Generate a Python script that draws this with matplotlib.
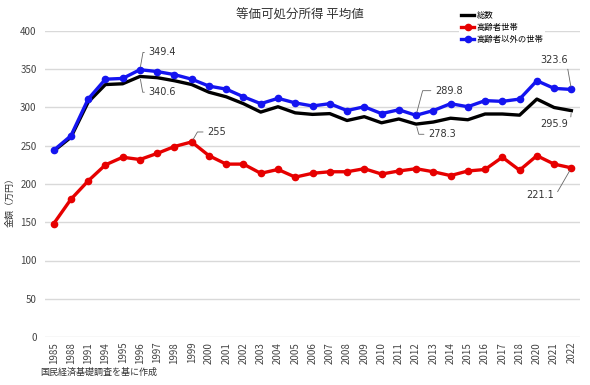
import matplotlib.pyplot as plt

plt.rcParams['font.family'] = ['Noto Sans CJK JP', 'DejaVu Sans']

years = ["1985", "1988", "1991", "1994"] + [str(y) for y in range(1995, 2019)] + ["2020", "2021", "2022"]

total = [243, 261, 307, 330, 331, 340.6, 339, 335, 330, 320, 314, 305, 294, 301, 293,
         291, 292, 283, 288, 280, 285, 278.3, 281, 286, 284, 291.5, 291.5, 290, 311, 300, 295.9]
elderly = [148, 180, 204, 225, 235, 232, 240, 249, 255, 237, 226, 226, 214, 219, 209,
           214, 216, 216, 220, 213, 217, 220, 216, 211, 217, 219, 235, 218, 237, 226, 221.1]
others = [244, 263, 311, 337, 338, 349.4, 347, 343, 337, 328, 324, 314, 305, 312, 306,
          302, 305, 296, 301, 292, 297, 289.8, 296, 305, 301, 309, 308, 311, 335, 325, 323.6]

x = list(range(len(years)))

fig = plt.figure(figsize=(5.9, 3.85), dpi=100)
ax = fig.add_axes([45/590, 1 - 337/385, 535/590, 306/385])

ax.plot(x, total, color='black', linewidth=2.4, label="総数", zorder=3)
ax.plot(x, elderly, color='#e60000', linewidth=2.4, marker='o', markersize=4.5, label="高齢者世帯", zorder=3)
ax.plot(x, others, color='#1414f0', linewidth=2.4, marker='o', markersize=4.5, label="高齢者以外の世帯", zorder=3)

ax.set_xlim(-0.5, len(x) - 0.5)
ax.set_ylim(0, 400)
ax.set_yticks(range(0, 401, 50))
ax.set_xticks(x)
ax.set_xticklabels(years, rotation=90)
ax.grid(axis='y', color='#d9d9d9', linewidth=1)
ax.set_axisbelow(True)
for s in ax.spines.values():
    s.set_visible(False)
ax.tick_params(axis='both', length=0, labelsize=7, labelcolor='#444444')
ax.tick_params(axis='y', pad=6)

# annotations with thin leader lines
def note(text, xi, yv, tx, ty, ha='left', angle=80):
    lead = dict(arrowstyle='-', color='#666666', linewidth=0.6, shrinkA=1, shrinkB=2,
                relpos=(0, 0.5) if ha == 'left' else (1, 0.5),
                connectionstyle='angle,angleA=0,angleB=%d,rad=0' % angle)
    ax.annotate(text, xy=(xi, yv), xytext=(tx, ty), fontsize=7, color='#333333',
                ha=ha, va='center', arrowprops=lead, family='DejaVu Sans')

note("349.4", 5, others[5], 5.5, 372)
note("340.6", 5, total[5], 5.5, 320, angle=-80)
note("255", 8, elderly[8], 8.9, 268, angle=60)
note("289.8", 21, others[21], 22.1, 322, angle=75)
note("278.3", 21, total[21], 21.7, 265, angle=-75)
note("323.6", 30, others[30], 29.8, 362, ha='right', angle=-80)
note("295.9", 30, total[30], 29.8, 278, ha='right', angle=85)
note("221.1", 30, elderly[30], 29.0, 186, ha='right', angle=60)

fig.text(300/590, 1 - 15/385, "等価可処分所得 平均値", ha='center', va='center', fontsize=9, color='#333333')
fig.text(10/590, 1 - 200/385, "金額（万円）", rotation=90, ha='center', va='center', fontsize=6.5, color='#333333')
fig.text(40/590, 1 - 372/385, "国民経済基礎調査を基に作成", ha='left', va='center', fontsize=6.5, color='#333333')

leg = fig.legend(loc='upper left', bbox_to_anchor=(455/590, 1 - 5/385), fontsize=6,
                 frameon=True, facecolor='white', edgecolor='none', framealpha=1,
                 handlelength=1.6, handletextpad=0.3, labelspacing=0.35, borderpad=0.2)

fig.savefig('out.png', dpi=100)
